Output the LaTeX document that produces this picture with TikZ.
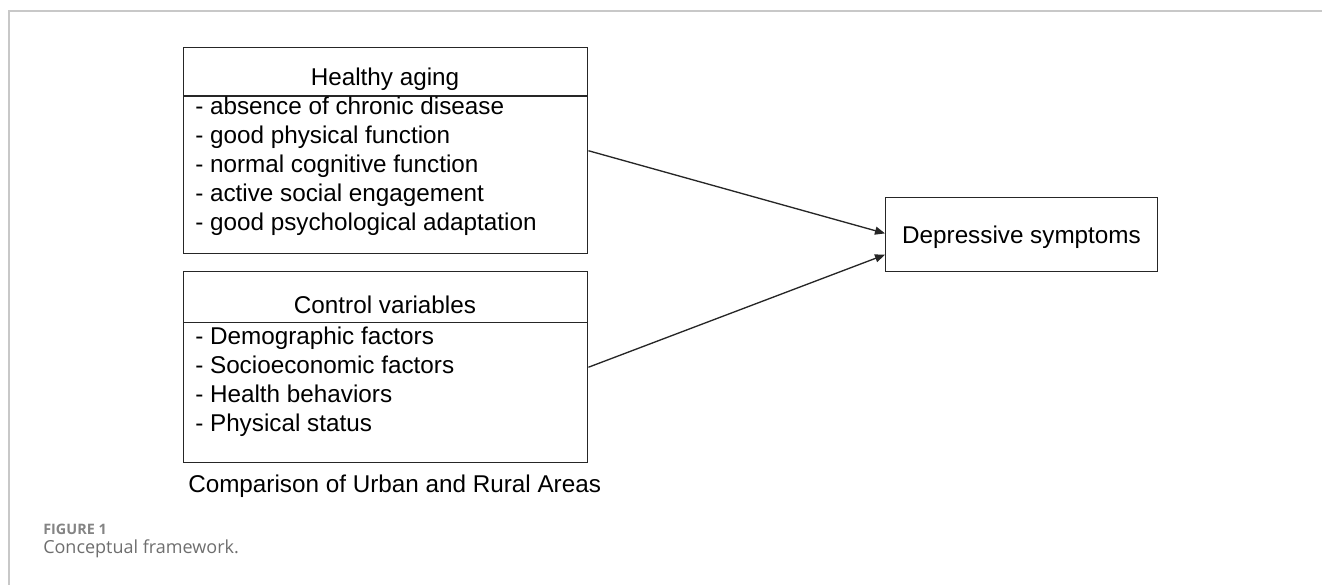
\documentclass[tikz,border=0pt]{standalone}
\usepackage{fontspec}
\setmainfont{Liberation Sans}
\newfontfamily\capfont{Open Sans}
\usetikzlibrary{arrows.meta}
\definecolor{framegray}{HTML}{C8C8C8}
\definecolor{capgray}{HTML}{6E6E6E}
\begin{document}
\begin{tikzpicture}[x=0.75pt,y=-0.75pt,font=\fontsize{18.2}{21}\selectfont,
  box/.style={draw=black!85,line width=1.1pt,inner sep=0pt,minimum width=303pt},
  item/.style={anchor=base west,inner sep=0pt},
  link/.style={draw=black!85,line width=1pt,-{Triangle[length=7.5pt,width=6pt]}}]
  \useasboundingbox (0,0) rectangle (1322,585);
  \draw[framegray,line width=1pt] (9,585) -- (9,11) -- (1322,11);
  % boxes
  \node[box,anchor=north west,minimum height=154.5pt] (healthy) at (183,47) {};
  \draw[black!85,line width=1.1pt] (183,96) -- (587,96);
  \node[box,anchor=north west,minimum height=143.25pt] (control) at (183,271) {};
  \draw[black!85,line width=1.1pt] (183,322.5) -- (587,322.5);
  \node[box,anchor=north west,minimum width=204pt,minimum height=55.5pt] (depr) at (885,197) {};
  % texts
  \node[anchor=base,inner sep=0pt] (healthytitle) at (385,85.5) {Healthy aging};
  \node[anchor=base,inner sep=0pt] (controltitle) at (385,313) {Control variables};
  \node[anchor=base,inner sep=0pt] (deprtext) at (1021.5,243) {Depressive symptoms};
  \foreach \t [count=\i] in {absence of chronic disease,good physical function,normal cognitive function,active social engagement,good psychological adaptation} {
    \node[item] (healthy-\i) at (195,{115+28.8*(\i-1)}) {- \t};
  }
  \foreach \t [count=\i] in {Demographic factors,Socioeconomic factors,Health behaviors,Physical status} {
    \node[item] (control-\i) at (195,{344+29.3*(\i-1)}) {- \t};
  }
  \node[item] (compare) at (188,492) {Comparison of Urban and Rural Areas};
  % arrows
  \draw[link] (healthy.east) -- ([yshift=1pt]depr.west);
  \draw[link] (control.east) -- ([yshift=-15pt]depr.west);
  % caption
  \node[item,text=capgray!85,font=\capfont\bfseries\fontsize{10.8}{13}\selectfont] (figno) at (43,534) {FIGURE 1};
  \node[item,text=capgray,font=\capfont\fontsize{13.5}{16}\selectfont] (figcap) at (43,553) {Conceptual framework.};
\end{tikzpicture}
\end{document}
